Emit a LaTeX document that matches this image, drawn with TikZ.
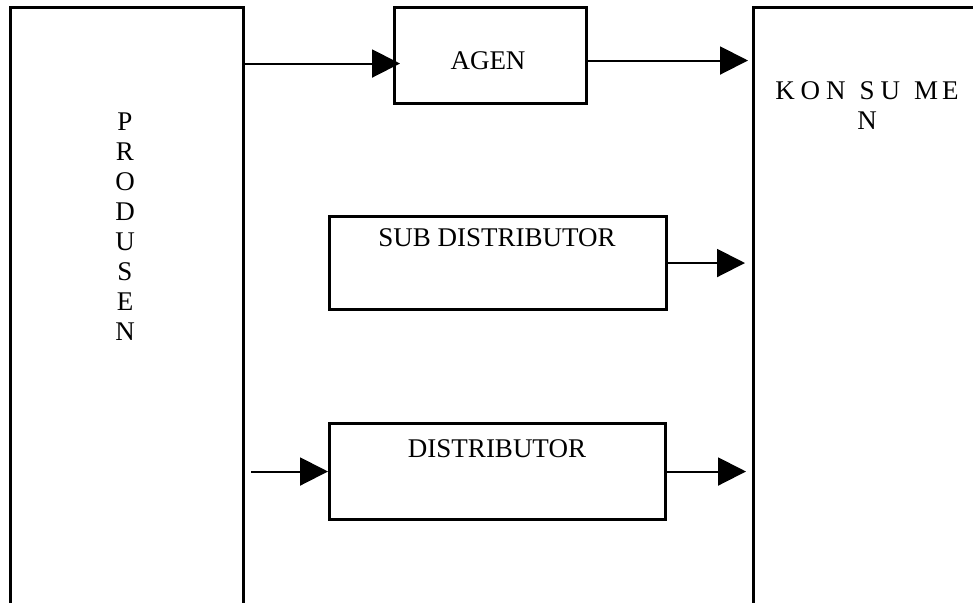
\documentclass[tikz,border=0pt]{standalone}
\usepackage{fontspec}
\setmainfont{Liberation Serif}
\usetikzlibrary{arrows.meta,positioning}

\begin{document}
\begin{tikzpicture}
		[x=0.5pt,y=-0.5pt,line cap=butt,
		%Styles
		block/.style={draw,line width=1.5pt,inner sep=0pt,anchor=north west},
		caption/.style={inner sep=0pt,font=\fontsize{13.5}{15}\selectfont,align=center},
		flow/.style={line width=1pt,-{Triangle[length=14pt,width=14pt]}}
		]
		
		\useasboundingbox (0,0) rectangle (973,602);
		\clip (0,0) rectangle (973,602);
		
		%The blocks
		\node[block,minimum width=116.5pt,minimum height=320pt] (produsen) at (9,6) {};
		\node[block,minimum width=96pt,minimum height=48pt] (agen) at (393,6) {};
		\node[block,minimum width=168.5pt,minimum height=46.5pt] (subdist) at (328,215) {};
		\node[block,minimum width=168pt,minimum height=48pt] (dist) at (328,422) {};
		\node[block,minimum width=130pt,minimum height=320pt] (konsumen) at (752,6) {};
		
		%Texts
		\node[caption] (produsen-text) at (125,226.5) {P\\R\\O\\D\\U\\S\\E\\N};
		\node[caption] (agen-text) at (488,61) {AGEN};
		\node[caption] (subdist-text) at (497,238) {SUB DISTRIBUTOR};
		\node[caption] (dist-text) at (497,449) {DISTRIBUTOR};
		\node[caption] (konsumen-text) at (867,106)
			{K\kern3pt O\kern3pt N\kern7pt S\kern3pt U\kern7pt M\kern2pt E\\N};
		
		%The flows
		\draw[flow] ([yshift=-4pt]agen.west -| produsen.east) -- ([xshift=3.5pt,yshift=-4pt]agen.west);
		\draw[flow,shorten >=2pt] ([yshift=-2.5pt]agen.east) -- ([yshift=-2.5pt]agen.east -| konsumen.west);
		\draw[flow,shorten >=3.5pt] (subdist.east) -- (subdist.east -| konsumen.west);
		\draw[flow] ([xshift=3pt]dist.west -| produsen.east) -- (dist.west);
		\draw[flow,shorten >=3pt] (dist.east) -- (dist.east -| konsumen.west);
	\end{tikzpicture}
\end{document}
